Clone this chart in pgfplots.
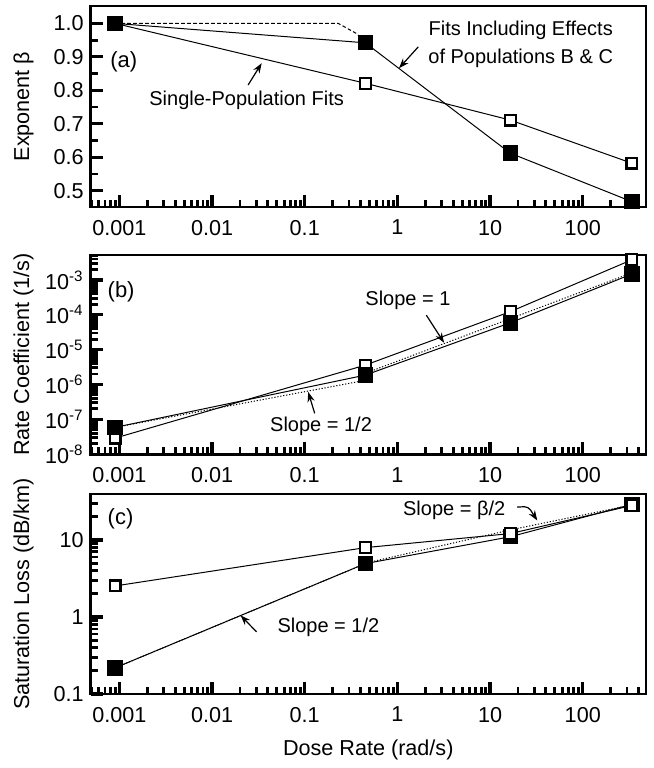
\documentclass[border=0pt]{standalone}
\usepackage{fontspec}
\setmainfont{Liberation Sans}
\usepackage{pgfplots}
\pgfplotsset{compat=1.18}
\usetikzlibrary{arrows.meta}

\pgfplotsset{
  dosepanel/.style={
    scale only axis, width=277.6pt,
    xmin=0.00049, xmax=480,
    axis line style={line width=1.3pt},
    tick align=inside, xtick pos=left, ytick pos=left,
    major tick length=6pt, minor tick length=3.5pt,
    major tick style={black, line width=1.6pt},
    minor tick style={black, line width=1.4pt},
    xtick={0.001,0.01,0.1,1,10,100},
    xticklabels={0.001,0.01,0.1,1,10,100},
    minor xtick={0.0005,0.0006,0.0007,0.0008,0.0009,
      0.002,0.003,0.004,0.005,0.006,0.007,0.008,0.009,
      0.02,0.03,0.04,0.05,0.06,0.07,0.08,0.09,
      0.2,0.3,0.4,0.5,0.6,0.7,0.8,0.9,
      2,3,4,5,6,7,8,9,20,30,40,50,60,70,80,90,200,300,400},
    tick label style={font=\fontsize{10.8}{12}\selectfont},
    xticklabel style={yshift=-3pt},
    label style={font=\fontsize{10.8}{12}\selectfont},
    ylabel style={at={(axis description cs:-0.121,0.5)}, anchor=center},
  },
  openmk/.style={black, line width=0.5pt, mark=square*,
    mark options={fill=white, line width=1.1pt, mark size=2.7pt, solid}},
  fillmk/.style={black, line width=0.5pt, mark=square*,
    mark options={fill=black, line width=0.5pt, mark size=3.6pt, solid}},
  fitdot/.style={black, line width=0.5pt, dash pattern=on 0.6pt off 0.9pt, no marks},
}
\tikzset{
  annot/.style={font=\fontsize{10}{12}\selectfont, inner sep=0pt},
  plab/.style={font=\fontsize{11}{12}\selectfont, inner sep=0pt, anchor=west},
  arr/.style={-{Stealth[length=5pt, width=3.6pt]}, line width=0.6pt},
}

\begin{document}
\begin{tikzpicture}
\path (0,0) rectangle (327pt,-384pt);

% (a) exponent beta
\begin{semilogxaxis}[dosepanel, at={(45.35pt,-3pt)}, anchor=north west,
  height=100.5pt, ymin=0.451, ymax=1.052,
  ytick={0.5,0.6,0.7,0.8,0.9,1.0},
  yticklabels={0.5,0.6,0.7,0.8,0.9,1.0},
  minor ytick={0.55,0.65,0.75,0.85,0.95},
  ylabel={Exponent β}]
\addplot[black, line width=0.5pt, dash pattern=on 1.8pt off 1.2pt]
  coordinates {(0.0009,1.0) (0.23,1.0) (0.36,0.97) (0.45,0.945)};
\addplot[openmk] coordinates {(0.0009,1.0) (0.45,0.821) (16.5,0.711) (339,0.582)};
\addplot[fillmk] coordinates {(0.0009,1.0) (0.45,0.942) (16.5,0.612) (339,0.467)};
\node[plab] at (axis cs:0.00079,0.885) {(a)};
\node[annot] at (axis cs:0.0236,0.771) {Single-Population Fits};
\draw[arr] (axis cs:0.0245,0.816) -- (axis cs:0.0343,0.881);
\node[annot, align=center] at (axis cs:21.4,0.938)
  {Fits Including Effects\\[2pt]of Populations B \& C};
\draw[arr] (axis cs:1.68,0.930) -- (axis cs:1.04,0.866);
\end{semilogxaxis}

% (b) rate coefficient
\begin{loglogaxis}[dosepanel, at={(45.35pt,-127.5pt)}, anchor=north west,
  height=99.6pt, ymin=1e-8, ymax=5.2e-3,
  ytick={1e-8,1e-7,1e-6,1e-5,1e-4,1e-3},
  yticklabels={10\textsuperscript{-8},10\textsuperscript{-7},10\textsuperscript{-6},
    10\textsuperscript{-5},10\textsuperscript{-4},10\textsuperscript{-3}},
  minor ytick={2e-8,3e-8,4e-8,5e-8,6e-8,7e-8,8e-8,9e-8,
    2e-7,3e-7,4e-7,5e-7,6e-7,7e-7,8e-7,9e-7,
    2e-6,3e-6,4e-6,5e-6,6e-6,7e-6,8e-6,9e-6,
    2e-5,3e-5,4e-5,5e-5,6e-5,7e-5,8e-5,9e-5,
    2e-4,3e-4,4e-4,5e-4,6e-4,7e-4,8e-4,9e-4,
    2e-3,3e-3,4e-3,5e-3},
  ylabel={Rate Coefficient (1/s)}]
\addplot[fitdot] coordinates {(0.0009,5.9e-8) (0.45,1.32e-6)};
\addplot[fitdot] coordinates {(0.45,2.1e-6) (339,1.6e-3)};
\addplot[openmk] coordinates {(0.0009,2.9e-8) (0.45,3.6e-6) (16.5,1.23e-4) (339,3.8e-3)};
\addplot[fillmk] coordinates {(0.0009,5.9e-8) (0.45,1.86e-6) (16.5,5.9e-5) (339,1.48e-3)};
\node[plab] at (axis cs:0.00074,4.6e-4) {(b)};
\node[annot] at (axis cs:1.3,2.6e-4) {Slope = 1};
\draw[arr] (axis cs:2.05,9.8e-5) -- (axis cs:3.19,1.58e-5);
\node[annot] at (axis cs:0.15,6.2e-8) {Slope = 1/2};
\draw[arr] (axis cs:0.128,1.49e-7) -- (axis cs:0.109,6.1e-7);
\end{loglogaxis}

% (c) saturation loss
\begin{loglogaxis}[dosepanel, at={(45.35pt,-247pt)}, anchor=north west,
  height=100pt, ymin=0.1, ymax=39.5,
  ytick={0.1,1,10}, yticklabels={0.1,1,10},
  minor ytick={0.2,0.3,0.4,0.5,0.6,0.7,0.8,0.9,2,3,4,5,6,7,8,9,20,30},
  ylabel={Saturation Loss (dB/km)},
  xlabel={Dose Rate (rad/s)},
  xlabel style={at={(axis description cs:0.5,-0.28)}, anchor=center}]
\addplot[fitdot] coordinates {(0.0009,0.219) (0.45,4.93)};
\addplot[fitdot] coordinates {(0.45,5.0) (16.5,13.5) (339,28.5)};
\addplot[fillmk] coordinates {(0.0009,0.219) (0.45,4.93) (16.5,11.0) (339,29)};
\addplot[openmk] coordinates {(0.0009,2.53) (0.45,7.95) (16.5,12.1) (339,28)};
\node[plab] at (axis cs:0.00074,18.9) {(c)};
\node[annot] at (axis cs:0.18,0.745) {Slope = 1/2};
\draw[arr] (axis cs:0.0302,0.641) -- (axis cs:0.0203,1.05);
\node[annot] at (axis cs:4.1,24.2) {Slope = β/2};
\draw[arr, rounded corners=2pt] (axis cs:19.6,26.7) -- (axis cs:25.8,27.2) -- (axis cs:32.3,17.9);
\end{loglogaxis}
\end{tikzpicture}
\end{document}
